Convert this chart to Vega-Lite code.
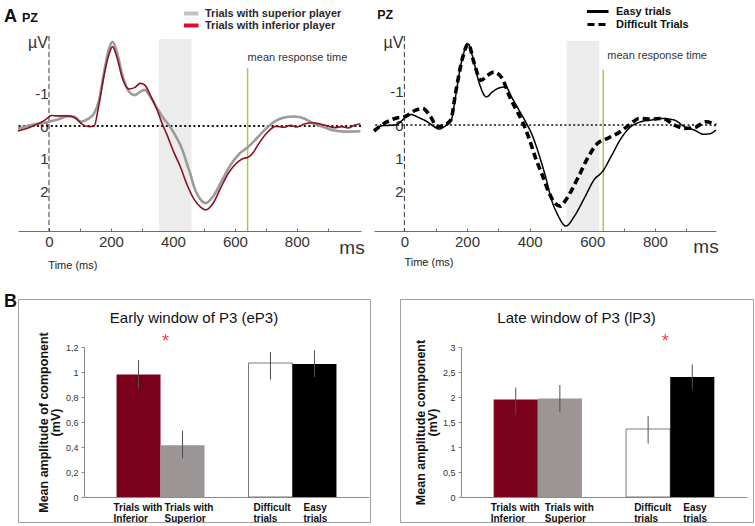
{
  "$schema": "https://vega.github.io/schema/vega-lite/v6.json",
  "padding": {"left": 3, "top": 5, "right": 0, "bottom": 0},
  "background": "white",
  "config": {"font": "Liberation Sans", "view": {"stroke": null}},
  "datasets": {
    "one": [{}],
    "erpPlayer": [
      {"t": -100, "v": 0.08, "cond": "Trials with superior player"},
      {"t": -57, "v": -0.03, "cond": "Trials with superior player"},
      {"t": 0, "v": -0.13, "cond": "Trials with superior player"},
      {"t": 29, "v": -0.2, "cond": "Trials with superior player"},
      {"t": 61, "v": -0.3, "cond": "Trials with superior player"},
      {"t": 82, "v": -0.28, "cond": "Trials with superior player"},
      {"t": 103, "v": -0.13, "cond": "Trials with superior player"},
      {"t": 125, "v": -0.21, "cond": "Trials with superior player"},
      {"t": 146, "v": -0.39, "cond": "Trials with superior player"},
      {"t": 162, "v": -0.8, "cond": "Trials with superior player"},
      {"t": 178, "v": -1.65, "cond": "Trials with superior player"},
      {"t": 194, "v": -2.37, "cond": "Trials with superior player"},
      {"t": 205, "v": -2.57, "cond": "Trials with superior player"},
      {"t": 219, "v": -2.26, "cond": "Trials with superior player"},
      {"t": 237, "v": -1.55, "cond": "Trials with superior player"},
      {"t": 258, "v": -1.05, "cond": "Trials with superior player"},
      {"t": 276, "v": -0.94, "cond": "Trials with superior player"},
      {"t": 295, "v": -1.05, "cond": "Trials with superior player"},
      {"t": 309, "v": -1.1, "cond": "Trials with superior player"},
      {"t": 327, "v": -0.89, "cond": "Trials with superior player"},
      {"t": 349, "v": -0.54, "cond": "Trials with superior player"},
      {"t": 370, "v": -0.23, "cond": "Trials with superior player"},
      {"t": 391, "v": 0.02, "cond": "Trials with superior player"},
      {"t": 413, "v": 0.38, "cond": "Trials with superior player"},
      {"t": 425, "v": 0.6, "cond": "Trials with superior player"},
      {"t": 434, "v": 0.82, "cond": "Trials with superior player"},
      {"t": 447, "v": 1.2, "cond": "Trials with superior player"},
      {"t": 455, "v": 1.42, "cond": "Trials with superior player"},
      {"t": 468, "v": 1.85, "cond": "Trials with superior player"},
      {"t": 490, "v": 2.25, "cond": "Trials with superior player"},
      {"t": 506, "v": 2.35, "cond": "Trials with superior player"},
      {"t": 528, "v": 2.17, "cond": "Trials with superior player"},
      {"t": 555, "v": 1.72, "cond": "Trials with superior player"},
      {"t": 581, "v": 1.26, "cond": "Trials with superior player"},
      {"t": 614, "v": 0.85, "cond": "Trials with superior player"},
      {"t": 641, "v": 0.65, "cond": "Trials with superior player"},
      {"t": 673, "v": 0.35, "cond": "Trials with superior player"},
      {"t": 705, "v": 0.04, "cond": "Trials with superior player"},
      {"t": 732, "v": -0.16, "cond": "Trials with superior player"},
      {"t": 759, "v": -0.26, "cond": "Trials with superior player"},
      {"t": 791, "v": -0.29, "cond": "Trials with superior player"},
      {"t": 824, "v": -0.23, "cond": "Trials with superior player"},
      {"t": 856, "v": -0.06, "cond": "Trials with superior player"},
      {"t": 888, "v": 0.04, "cond": "Trials with superior player"},
      {"t": 921, "v": 0.14, "cond": "Trials with superior player"},
      {"t": 953, "v": 0.17, "cond": "Trials with superior player"},
      {"t": 1005, "v": 0.16, "cond": "Trials with superior player"},
      {"t": -100, "v": 0.15, "cond": "Trials with inferior player"},
      {"t": -57, "v": 0.02, "cond": "Trials with inferior player"},
      {"t": -10, "v": -0.2, "cond": "Trials with inferior player"},
      {"t": 7, "v": -0.32, "cond": "Trials with inferior player"},
      {"t": 29, "v": -0.31, "cond": "Trials with inferior player"},
      {"t": 61, "v": -0.31, "cond": "Trials with inferior player"},
      {"t": 87, "v": -0.23, "cond": "Trials with inferior player"},
      {"t": 108, "v": -0.05, "cond": "Trials with inferior player"},
      {"t": 130, "v": 0.02, "cond": "Trials with inferior player"},
      {"t": 146, "v": 0.0, "cond": "Trials with inferior player"},
      {"t": 159, "v": -0.54, "cond": "Trials with inferior player"},
      {"t": 178, "v": -1.55, "cond": "Trials with inferior player"},
      {"t": 194, "v": -2.2, "cond": "Trials with inferior player"},
      {"t": 205, "v": -2.42, "cond": "Trials with inferior player"},
      {"t": 219, "v": -2.1, "cond": "Trials with inferior player"},
      {"t": 237, "v": -1.45, "cond": "Trials with inferior player"},
      {"t": 258, "v": -1.13, "cond": "Trials with inferior player"},
      {"t": 276, "v": -1.17, "cond": "Trials with inferior player"},
      {"t": 295, "v": -1.3, "cond": "Trials with inferior player"},
      {"t": 309, "v": -1.25, "cond": "Trials with inferior player"},
      {"t": 327, "v": -0.94, "cond": "Trials with inferior player"},
      {"t": 349, "v": -0.49, "cond": "Trials with inferior player"},
      {"t": 365, "v": -0.08, "cond": "Trials with inferior player"},
      {"t": 381, "v": 0.27, "cond": "Trials with inferior player"},
      {"t": 402, "v": 0.78, "cond": "Trials with inferior player"},
      {"t": 423, "v": 1.22, "cond": "Trials with inferior player"},
      {"t": 447, "v": 1.82, "cond": "Trials with inferior player"},
      {"t": 468, "v": 2.23, "cond": "Trials with inferior player"},
      {"t": 490, "v": 2.48, "cond": "Trials with inferior player"},
      {"t": 506, "v": 2.56, "cond": "Trials with inferior player"},
      {"t": 528, "v": 2.38, "cond": "Trials with inferior player"},
      {"t": 555, "v": 1.87, "cond": "Trials with inferior player"},
      {"t": 581, "v": 1.41, "cond": "Trials with inferior player"},
      {"t": 614, "v": 1.06, "cond": "Trials with inferior player"},
      {"t": 630, "v": 0.98, "cond": "Trials with inferior player"},
      {"t": 641, "v": 0.96, "cond": "Trials with inferior player"},
      {"t": 660, "v": 0.8, "cond": "Trials with inferior player"},
      {"t": 673, "v": 0.6, "cond": "Trials with inferior player"},
      {"t": 705, "v": 0.19, "cond": "Trials with inferior player"},
      {"t": 732, "v": 0.01, "cond": "Trials with inferior player"},
      {"t": 759, "v": 0.04, "cond": "Trials with inferior player"},
      {"t": 780, "v": -0.02, "cond": "Trials with inferior player"},
      {"t": 800, "v": 0.03, "cond": "Trials with inferior player"},
      {"t": 824, "v": -0.06, "cond": "Trials with inferior player"},
      {"t": 850, "v": -0.1, "cond": "Trials with inferior player"},
      {"t": 875, "v": -0.06, "cond": "Trials with inferior player"},
      {"t": 900, "v": 0.0, "cond": "Trials with inferior player"},
      {"t": 921, "v": 0.05, "cond": "Trials with inferior player"},
      {"t": 945, "v": 0.02, "cond": "Trials with inferior player"},
      {"t": 965, "v": 0.06, "cond": "Trials with inferior player"},
      {"t": 985, "v": -0.02, "cond": "Trials with inferior player"},
      {"t": 1005, "v": -0.07, "cond": "Trials with inferior player"}
    ],
    "erpDifficulty": [
      {"t": -97, "v": 0.15, "cond": "Easy trials"},
      {"t": -70, "v": 0.02, "cond": "Easy trials"},
      {"t": -28, "v": 0.0, "cond": "Easy trials"},
      {"t": 0, "v": -0.2, "cond": "Easy trials"},
      {"t": 20, "v": -0.32, "cond": "Easy trials"},
      {"t": 47, "v": -0.22, "cond": "Easy trials"},
      {"t": 73, "v": -0.1, "cond": "Easy trials"},
      {"t": 95, "v": 0.05, "cond": "Easy trials"},
      {"t": 111, "v": 0.12, "cond": "Easy trials"},
      {"t": 132, "v": 0.02, "cond": "Easy trials"},
      {"t": 148, "v": -0.1, "cond": "Easy trials"},
      {"t": 164, "v": -0.9, "cond": "Easy trials"},
      {"t": 180, "v": -1.8, "cond": "Easy trials"},
      {"t": 196, "v": -2.35, "cond": "Easy trials"},
      {"t": 204, "v": -2.45, "cond": "Easy trials"},
      {"t": 217, "v": -2.1, "cond": "Easy trials"},
      {"t": 238, "v": -1.3, "cond": "Easy trials"},
      {"t": 262, "v": -0.85, "cond": "Easy trials"},
      {"t": 281, "v": -1.0, "cond": "Easy trials"},
      {"t": 302, "v": -1.12, "cond": "Easy trials"},
      {"t": 323, "v": -1.15, "cond": "Easy trials"},
      {"t": 345, "v": -0.8, "cond": "Easy trials"},
      {"t": 366, "v": -0.45, "cond": "Easy trials"},
      {"t": 387, "v": -0.1, "cond": "Easy trials"},
      {"t": 408, "v": 0.3, "cond": "Easy trials"},
      {"t": 430, "v": 0.9, "cond": "Easy trials"},
      {"t": 452, "v": 1.6, "cond": "Easy trials"},
      {"t": 468, "v": 2.2, "cond": "Easy trials"},
      {"t": 489, "v": 2.7, "cond": "Easy trials"},
      {"t": 516, "v": 3.05, "cond": "Easy trials"},
      {"t": 543, "v": 2.75, "cond": "Easy trials"},
      {"t": 575, "v": 2.2, "cond": "Easy trials"},
      {"t": 606, "v": 1.65, "cond": "Easy trials"},
      {"t": 633, "v": 1.4, "cond": "Easy trials"},
      {"t": 660, "v": 0.95, "cond": "Easy trials"},
      {"t": 692, "v": 0.4, "cond": "Easy trials"},
      {"t": 723, "v": 0.05, "cond": "Easy trials"},
      {"t": 755, "v": -0.1, "cond": "Easy trials"},
      {"t": 787, "v": -0.15, "cond": "Easy trials"},
      {"t": 819, "v": -0.2, "cond": "Easy trials"},
      {"t": 862, "v": -0.15, "cond": "Easy trials"},
      {"t": 894, "v": 0.05, "cond": "Easy trials"},
      {"t": 925, "v": 0.15, "cond": "Easy trials"},
      {"t": 957, "v": 0.28, "cond": "Easy trials"},
      {"t": 979, "v": 0.25, "cond": "Easy trials"},
      {"t": 995, "v": 0.15, "cond": "Easy trials"},
      {"t": -97, "v": 0.18, "cond": "Difficult Trials"},
      {"t": -59, "v": -0.08, "cond": "Difficult Trials"},
      {"t": -22, "v": -0.22, "cond": "Difficult Trials"},
      {"t": 0, "v": -0.25, "cond": "Difficult Trials"},
      {"t": 36, "v": -0.45, "cond": "Difficult Trials"},
      {"t": 58, "v": -0.5, "cond": "Difficult Trials"},
      {"t": 84, "v": -0.25, "cond": "Difficult Trials"},
      {"t": 105, "v": 0.05, "cond": "Difficult Trials"},
      {"t": 127, "v": 0.0, "cond": "Difficult Trials"},
      {"t": 148, "v": -0.15, "cond": "Difficult Trials"},
      {"t": 164, "v": -1.0, "cond": "Difficult Trials"},
      {"t": 185, "v": -2.0, "cond": "Difficult Trials"},
      {"t": 204, "v": -2.45, "cond": "Difficult Trials"},
      {"t": 222, "v": -1.9, "cond": "Difficult Trials"},
      {"t": 244, "v": -1.35, "cond": "Difficult Trials"},
      {"t": 265, "v": -1.5, "cond": "Difficult Trials"},
      {"t": 286, "v": -1.6, "cond": "Difficult Trials"},
      {"t": 313, "v": -1.4, "cond": "Difficult Trials"},
      {"t": 334, "v": -0.9, "cond": "Difficult Trials"},
      {"t": 355, "v": -0.5, "cond": "Difficult Trials"},
      {"t": 377, "v": -0.1, "cond": "Difficult Trials"},
      {"t": 398, "v": 0.4, "cond": "Difficult Trials"},
      {"t": 419, "v": 1.0, "cond": "Difficult Trials"},
      {"t": 440, "v": 1.5, "cond": "Difficult Trials"},
      {"t": 462, "v": 2.05, "cond": "Difficult Trials"},
      {"t": 480, "v": 2.35, "cond": "Difficult Trials"},
      {"t": 498, "v": 2.45, "cond": "Difficult Trials"},
      {"t": 511, "v": 2.32, "cond": "Difficult Trials"},
      {"t": 532, "v": 2.0, "cond": "Difficult Trials"},
      {"t": 559, "v": 1.5, "cond": "Difficult Trials"},
      {"t": 585, "v": 1.0, "cond": "Difficult Trials"},
      {"t": 617, "v": 0.55, "cond": "Difficult Trials"},
      {"t": 649, "v": 0.4, "cond": "Difficult Trials"},
      {"t": 681, "v": 0.25, "cond": "Difficult Trials"},
      {"t": 718, "v": 0.0, "cond": "Difficult Trials"},
      {"t": 750, "v": -0.2, "cond": "Difficult Trials"},
      {"t": 787, "v": -0.18, "cond": "Difficult Trials"},
      {"t": 824, "v": -0.2, "cond": "Difficult Trials"},
      {"t": 862, "v": 0.0, "cond": "Difficult Trials"},
      {"t": 894, "v": 0.1, "cond": "Difficult Trials"},
      {"t": 925, "v": 0.08, "cond": "Difficult Trials"},
      {"t": 963, "v": -0.1, "cond": "Difficult Trials"},
      {"t": 995, "v": 0.0, "cond": "Difficult Trials"}
    ],
    "barsEarly": [
      {"cat": "Trials with Inferior", "mean": 0.98, "lo": 0.87, "hi": 1.095},
      {"cat": "Trials with Superior", "mean": 0.415, "lo": 0.31, "hi": 0.53},
      {"cat": "Difficult trials", "mean": 1.072, "lo": 0.94, "hi": 1.16},
      {"cat": "Easy trials", "mean": 1.065, "lo": 0.96, "hi": 1.175}
    ],
    "barsLate": [
      {"cat": "Trials with Inferior", "mean": 1.95, "lo": 1.64, "hi": 2.19},
      {"cat": "Trials with Superior", "mean": 1.97, "lo": 1.7, "hi": 2.24},
      {"cat": "Difficult trials", "mean": 1.36, "lo": 1.07, "hi": 1.62},
      {"cat": "Easy trials", "mean": 2.4, "lo": 2.15, "hi": 2.65}
    ]
  },
  "spacing": 20,
  "resolve": {"scale": {"color": "independent", "fill": "independent", "stroke": "independent", "strokeDash": "independent"}, "legend": {"color": "independent", "fill": "independent", "stroke": "independent", "strokeDash": "independent"}},
  "vconcat": [
    {
      "bounds": "flush",
      "spacing": 13,
      "resolve": {"scale": {"color": "independent", "fill": "independent", "stroke": "independent", "strokeDash": "independent"}, "legend": {"color": "independent", "fill": "independent", "stroke": "independent", "strokeDash": "independent"}},
      "hconcat": [
        {
          "width": 343,
          "height": 195,
          "layer": [
            {
              "data": {"name": "one"},
              "mark": {"type": "rect", "color": "#ececec"},
              "encoding": {
                "x": {"datum": 355, "type": "quantitative",
                  "scale": {"domain": [-100, 1007], "nice": false, "zero": false},
                  "axis": {"values": [0, 100, 200, 300, 400, 500, 600, 700, 800, 900], "tickCount": 30, "format": "d",
                    "labelExpr": "datum.value % 200 === 0 ? datum.label : ''",
                    "title": null, "grid": false, "domainColor": "#6f6f6f", "tickColor": "#6f6f6f", "tickSize": -3,
                    "labelFont": "Liberation Sans", "labelFontSize": 15,
                    "labelColor": "#333", "labelPadding": 6}},
                "x2": {"datum": 460},
                "y": {"datum": -2.65, "type": "quantitative",
                  "scale": {"domain": [-2.744, 3.201], "reverse": true, "nice": false, "zero": false},
                  "axis": {"values": [-1, 0, 1, 2], "tickCount": 20, "format": "d", "labelExpr": "replace(datum.label, '−', '-')",
                    "offset": -31, "domain": false, "ticks": false, "grid": false, "title": null,
                    "labelFont": "Liberation Sans", "labelFontSize": 15,
                    "labelColor": "#333", "labelPadding": 1}},
                "y2": {"datum": 3.201}
              }
            },
            {
              "data": {"name": "one"},
              "mark": {"type": "rule", "color": "#a9c94a", "strokeWidth": 1.5},
              "encoding": {"x": {"datum": 641}, "y": {"datum": -1.77}, "y2": {"datum": 3.201}}
            },
            {
              "data": {"name": "one"},
              "mark": {"type": "rule", "color": "#111", "strokeWidth": 2, "strokeDash": [2, 2.6]},
              "encoding": {"y": {"datum": 0}}
            },
            {
              "data": {"name": "one"},
              "mark": {"type": "rule", "color": "#333", "strokeWidth": 1, "strokeDash": [5, 3]},
              "encoding": {"x": {"datum": 0}, "y": {"datum": -2.744}, "y2": {"datum": 3.201}}
            },
            {
              "data": {"name": "erpPlayer"},
              "mark": {"type": "point", "shape": "square", "filled": true, "opacity": 0, "size": 4},
              "encoding": {
                "x": {"field": "t", "type": "quantitative"},
                "y": {"field": "v", "type": "quantitative"},
                "fill": {"field": "cond", "type": "nominal",
                  "scale": {"domain": ["Trials with superior player", "Trials with inferior player"], "range": ["#c5c1c1", "#d8102e"]},
                  "legend": {"orient": "none", "legendX": 166, "legendY": -28, "title": null,
                    "symbolType": "M-4.5,-1H4.5V1H-4.5Z", "symbolSize": 16, "symbolStrokeWidth": 0, "symbolOpacity": 1,
                    "labelFont": "Liberation Sans", "labelFontSize": 11, "labelFontWeight": "bold", "labelColor": "#2a2a2a",
                    "labelOffset": 10, "rowPadding": 0, "clipHeight": 11, "padding": 0}}
              }
            },
            {
              "data": {"name": "erpPlayer"},
              "mark": {"type": "line", "interpolate": "monotone"},
              "encoding": {
                "x": {"field": "t", "type": "quantitative"},
                "y": {"field": "v", "type": "quantitative"},
                "stroke": {"field": "cond", "type": "nominal",
                  "scale": {"domain": ["Trials with superior player", "Trials with inferior player"], "range": ["#9b9b9b", "#8c1022"]},
                  "legend": null},
                "strokeWidth": {"condition": {"test": "datum.cond === 'Trials with superior player'", "value": 2.6}, "value": 1.6}
              }
            },
            {
              "data": {"name": "one"},
              "mark": {"type": "text", "text": "A", "fontSize": 18, "fontWeight": "bold", "align": "left", "baseline": "alphabetic", "color": "#111"},
              "encoding": {"x": {"datum": -145}, "y": {"datum": -3.17}}
            },
            {
              "data": {"name": "one"},
              "mark": {"type": "text", "text": "PZ", "fontSize": 12.5, "fontWeight": "bold", "align": "left", "baseline": "alphabetic", "color": "#111"},
              "encoding": {"x": {"datum": -87}, "y": {"datum": -3.17}}
            },
            {
              "data": {"name": "one"},
              "mark": {"type": "text", "text": "µV", "fontSize": 16, "align": "right", "baseline": "alphabetic", "color": "#333", "dx": -1},
              "encoding": {"x": {"datum": 0}, "y": {"datum": -2.38}}
            },
            {
              "data": {"name": "one"},
              "mark": {"type": "text", "text": "mean response time", "fontSize": 11, "align": "left", "baseline": "alphabetic", "color": "#333"},
              "encoding": {"x": {"datum": 641}, "y": {"datum": -1.98}}
            },
            {
              "data": {"name": "one"},
              "mark": {"type": "text", "text": "ms", "fontSize": 19, "align": "center", "baseline": "alphabetic", "color": "#333"},
              "encoding": {"x": {"datum": 978}, "y": {"datum": 3.9}}
            },
            {
              "data": {"name": "one"},
              "mark": {"type": "text", "text": "Time (ms)", "fontSize": 11, "align": "left", "baseline": "alphabetic", "color": "#222"},
              "encoding": {"x": {"datum": -2}, "y": {"datum": 4.36}}
            }
          ]
        },
        {
          "width": 342,
          "height": 195,
          "layer": [
            {
              "data": {"name": "one"},
              "mark": {"type": "rect", "color": "#ececec"},
              "encoding": {
                "x": {"datum": 518, "type": "quantitative",
                  "scale": {"domain": [-97, 995], "nice": false, "zero": false},
                  "axis": {"values": [0, 100, 200, 300, 400, 500, 600, 700, 800, 900], "tickCount": 30, "format": "d",
                    "labelExpr": "datum.value % 200 === 0 ? datum.label : ''",
                    "title": null, "grid": false, "domainColor": "#6f6f6f", "tickColor": "#6f6f6f", "tickSize": -3,
                    "labelFont": "Liberation Sans", "labelFontSize": 15,
                    "labelColor": "#333", "labelPadding": 6}},
                "x2": {"datum": 622},
                "y": {"datum": -2.54, "type": "quantitative",
                  "scale": {"domain": [-2.69, 3.2], "reverse": true, "nice": false, "zero": false},
                  "axis": {"values": [-1, 0, 1, 2], "tickCount": 20, "format": "d", "labelExpr": "replace(datum.label, '−', '-')",
                    "offset": -30, "domain": false, "ticks": false, "grid": false, "title": null,
                    "labelFont": "Liberation Sans", "labelFontSize": 15,
                    "labelColor": "#333", "labelPadding": 1}},
                "y2": {"datum": 3.2}
              }
            },
            {
              "data": {"name": "one"},
              "mark": {"type": "rule", "color": "#a9c94a", "strokeWidth": 1.5},
              "encoding": {"x": {"datum": 635}, "y": {"datum": -1.67}, "y2": {"datum": 3.2}}
            },
            {
              "data": {"name": "one"},
              "mark": {"type": "rule", "color": "#111", "strokeWidth": 1.6, "strokeDash": [2, 2.4]},
              "encoding": {"y": {"datum": 0}}
            },
            {
              "data": {"name": "one"},
              "mark": {"type": "rule", "color": "#333", "strokeWidth": 1, "strokeDash": [5, 3]},
              "encoding": {"x": {"datum": 0}, "y": {"datum": -2.69}, "y2": {"datum": 3.2}}
            },
            {
              "data": {"name": "erpDifficulty"},
              "mark": {"type": "line", "interpolate": "monotone", "color": "#000"},
              "encoding": {
                "x": {"field": "t", "type": "quantitative"},
                "y": {"field": "v", "type": "quantitative"},
                "strokeDash": {"field": "cond", "type": "nominal",
                  "scale": {"domain": ["Easy trials", "Difficult Trials"], "range": [[1, 0], [7, 4]]},
                  "legend": {"orient": "none", "legendX": 213, "legendY": -31, "title": null,
                    "symbolType": "M-8,0H8", "symbolSize": 16, "symbolStrokeWidth": 3, "symbolStrokeColor": "#000",
                    "labelFont": "Liberation Sans", "labelFontSize": 11, "labelFontWeight": "bold", "labelColor": "#111",
                    "labelOffset": 18, "rowPadding": 0, "clipHeight": 13, "padding": 0}},
                "strokeWidth": {"condition": {"test": "datum.cond === 'Difficult Trials'", "value": 3.6}, "value": 1.5}
              }
            },
            {
              "data": {"name": "one"},
              "mark": {"type": "text", "text": "PZ", "fontSize": 12.5, "fontWeight": "bold", "align": "left", "baseline": "alphabetic", "color": "#111"},
              "encoding": {"x": {"datum": -87}, "y": {"datum": -3.2}}
            },
            {
              "data": {"name": "one"},
              "mark": {"type": "text", "text": "µV", "fontSize": 16, "align": "right", "baseline": "alphabetic", "color": "#333", "dx": -1},
              "encoding": {"x": {"datum": 0}, "y": {"datum": -2.33}}
            },
            {
              "data": {"name": "one"},
              "mark": {"type": "text", "text": "mean response time", "fontSize": 11, "align": "left", "baseline": "alphabetic", "color": "#333", "dx": 4},
              "encoding": {"x": {"datum": 635}, "y": {"datum": -2.0}}
            },
            {
              "data": {"name": "one"},
              "mark": {"type": "text", "text": "ms", "fontSize": 19, "align": "center", "baseline": "alphabetic", "color": "#333"},
              "encoding": {"x": {"datum": 963}, "y": {"datum": 3.85}}
            },
            {
              "data": {"name": "one"},
              "mark": {"type": "text", "text": "Time (ms)", "fontSize": 11, "align": "left", "baseline": "alphabetic", "color": "#222"},
              "encoding": {"x": {"datum": 0}, "y": {"datum": 4.25}}
            }
          ]
        }
      ]
    },
    {
      "bounds": "flush",
      "spacing": 30,
      "hconcat": [
        {
          "width": 352,
          "height": 223,
          "view": {"stroke": "#a0a0a0", "strokeWidth": 1},
          "layer": [
            {
              "data": {"name": "barsEarly"},
              "mark": {"type": "bar", "stroke": "#7a7a7a"},
              "encoding": {
                "x": {"field": "cat", "type": "nominal", "sort": null,
                  "scale": {"domain": ["Trials with Inferior", "Trials with Superior", "gap", "Difficult trials", "Easy trials"], "range": [66, 351], "paddingInner": 0, "paddingOuter": 0.74},
                  "axis": {"title": null, "offset": -25, "domainColor": "#8a8a8a", "ticks": false, "labelAngle": 0,
                    "labelExpr": "datum.value === 'Trials with Inferior' ? ['Trials with', 'Inferior'] : datum.value === 'Trials with Superior' ? ['Trials with', 'Superior'] : datum.value === 'Difficult trials' ? ['Difficult', 'trials'] : datum.value === 'Easy trials' ? ['Easy', 'trials'] : ''",
                    "labelAlign": "left",
                    "labelOffset": {"condition": [{"test": "datum.value === 'Trials with Inferior'", "value": -25}, {"test": "datum.value === 'Trials with Superior'", "value": -18}, {"test": "datum.value === 'Difficult trials'", "value": -17}], "value": -11},
                    "labelFontSize": 10, "labelFontWeight": "bold", "labelColor": "#111", "labelPadding": 5, "labelLineHeight": 11, "labelBaseline": "top"}},
                "y": {"field": "mean", "type": "quantitative",
                  "scale": {"domain": [0, 1.2], "range": [198, 48], "nice": false},
                  "axis": {"values": [0, 0.2, 0.4, 0.6, 0.8, 1, 1.2], "tickCount": 20, "format": "~g", "labelOverlap": false, "labelExpr": "replace(datum.label, '.', ',')",
                    "offset": -66, "grid": false, "domainColor": "#8a8a8a", "tickColor": "#8a8a8a", "tickSize": 3,
                    "labelFontSize": 9, "labelColor": "#333", "labelPadding": 3,
                    "title": ["Mean amplitude of component", "(mV)"], "titleFontSize": 12.5, "titleFontWeight": "bold",
                    "titleColor": "#111", "titlePadding": 3, "titleLineHeight": 12}},
                "color": {"field": "cat", "type": "nominal",
                  "scale": {"domain": ["Trials with Inferior", "Trials with Superior", "Difficult trials", "Easy trials"], "range": ["#7b0019", "#9b9695", "#ffffff", "#000000"]},
                  "legend": null},
                "strokeWidth": {"condition": {"test": "datum.cat === 'Difficult trials'", "value": 1}, "value": 0}
              }
            },
            {
              "data": {"name": "barsEarly"},
              "mark": {"type": "rule", "color": "#4f4f4f", "strokeWidth": 1},
              "encoding": {
                "x": {"field": "cat", "type": "nominal"},
                "y": {"field": "lo", "type": "quantitative"},
                "y2": {"field": "hi"}
              }
            },
            {
              "data": {"name": "one"},
              "mark": {"type": "text", "text": "Early window of P3 (eP3)", "fontSize": 15, "color": "#111", "align": "center", "baseline": "alphabetic", "dx": -32.5},
              "encoding": {"x": {"datum": "gap"}, "y": {"datum": 1.392}}
            },
            {
              "data": {"name": "one"},
              "mark": {"type": "text", "text": "*", "fontSize": 18, "color": "#e5485a", "baseline": "alphabetic", "dx": -17},
              "encoding": {"x": {"datum": "Trials with Superior"}, "y": {"datum": 1.2}}
            },
            {
              "data": {"name": "one"},
              "mark": {"type": "text", "text": "B", "fontSize": 18, "fontWeight": "bold", "align": "left", "baseline": "alphabetic", "dx": -134.5, "color": "#111"},
              "encoding": {"x": {"datum": "Trials with Inferior"}, "y": {"datum": 1.52}}
            }
          ]
        },
        {
          "width": 353,
          "height": 223,
          "view": {"stroke": "#a0a0a0", "strokeWidth": 1},
          "layer": [
            {
              "data": {"name": "barsLate"},
              "mark": {"type": "bar", "stroke": "#7a7a7a"},
              "encoding": {
                "x": {"field": "cat", "type": "nominal", "sort": null,
                  "scale": {"domain": ["Trials with Inferior", "Trials with Superior", "gap", "Difficult trials", "Easy trials"], "range": [61, 347], "paddingInner": 0, "paddingOuter": 0.74},
                  "axis": {"title": null, "offset": -25, "domainColor": "#8a8a8a", "ticks": false, "labelAngle": 0,
                    "labelExpr": "datum.value === 'Trials with Inferior' ? ['Trials with', 'Inferior'] : datum.value === 'Trials with Superior' ? ['Trials with', 'Superior'] : datum.value === 'Difficult trials' ? ['Difficult', 'trials'] : datum.value === 'Easy trials' ? ['Easy', 'trials'] : ''",
                    "labelAlign": "left",
                    "labelOffset": {"condition": [{"test": "datum.value === 'Trials with Inferior'", "value": -25}, {"test": "datum.value === 'Trials with Superior'", "value": -15}, {"test": "datum.value === 'Difficult trials'", "value": -14}], "value": -9},
                    "labelFontSize": 10, "labelFontWeight": "bold", "labelColor": "#111", "labelPadding": 5, "labelLineHeight": 11, "labelBaseline": "top"}},
                "y": {"field": "mean", "type": "quantitative",
                  "scale": {"domain": [0, 3], "range": [198, 48], "nice": false},
                  "axis": {"values": [0, 0.5, 1, 1.5, 2, 2.5, 3], "tickCount": 20, "format": "~g", "labelOverlap": false, "labelExpr": "replace(datum.label, '.', ',')",
                    "offset": -61, "grid": false, "domainColor": "#8a8a8a", "tickColor": "#8a8a8a", "tickSize": 3,
                    "labelFontSize": 9, "labelColor": "#333", "labelPadding": 3,
                    "title": ["Mean amplitude component", "(mV)"], "titleFontSize": 12.5, "titleFontWeight": "bold",
                    "titleColor": "#111", "titlePadding": 3, "titleLineHeight": 12}},
                "color": {"field": "cat", "type": "nominal",
                  "scale": {"domain": ["Trials with Inferior", "Trials with Superior", "Difficult trials", "Easy trials"], "range": ["#7b0019", "#9b9695", "#ffffff", "#000000"]},
                  "legend": null},
                "strokeWidth": {"condition": {"test": "datum.cat === 'Difficult trials'", "value": 1}, "value": 0}
              }
            },
            {
              "data": {"name": "barsLate"},
              "mark": {"type": "rule", "color": "#4f4f4f", "strokeWidth": 1},
              "encoding": {
                "x": {"field": "cat", "type": "nominal"},
                "y": {"field": "lo", "type": "quantitative"},
                "y2": {"field": "hi"}
              }
            },
            {
              "data": {"name": "one"},
              "mark": {"type": "text", "text": "Late window of P3 (lP3)", "fontSize": 15, "color": "#111", "align": "center", "baseline": "alphabetic", "dx": -27.5},
              "encoding": {"x": {"datum": "gap"}, "y": {"datum": 3.48}}
            },
            {
              "data": {"name": "one"},
              "mark": {"type": "text", "text": "*", "fontSize": 18, "color": "#e5485a", "baseline": "alphabetic", "dx": 17},
              "encoding": {"x": {"datum": "Difficult trials"}, "y": {"datum": 3.0}}
            }
          ]
        }
      ]
    }
  ]
}
